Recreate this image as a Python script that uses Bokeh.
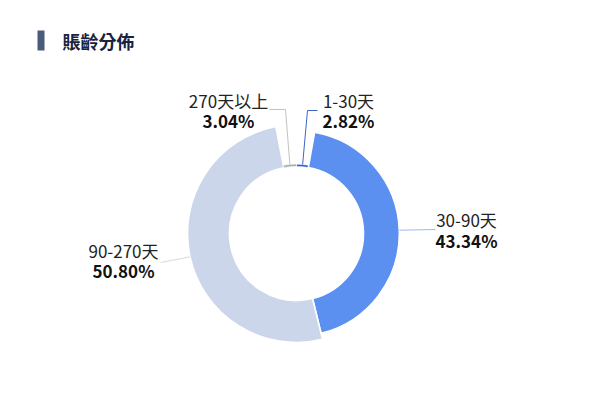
import math
from bokeh.plotting import figure
from bokeh.models import Range1d, ColumnDataSource
from bokeh.core.properties import value
from bokeh.embed import file_html
from bokeh.resources import INLINE

# ---- data ----
title = "賬齡分佈"
categories = ["1-30天", "30-90天", "90-270天", "270天以上"]
values = [2.82, 43.34, 50.80, 3.04]
pct_labels = ["2.82%", "43.34%", "50.80%", "3.04%"]
colors = ["#2F5FD0", "#5B8FF0", "#CCD6EA", "#A9AEB8"]
line_colors = ["#3A66C8", "#9DB9EE", "#D3D9E6", "#C2C2C2"]

# ---- layout ----
W, H = 584, 393
FONT = "Noto Sans CJK TC"


def P(px, py):
    """page pixel -> data coordinates"""
    return px, H - py


CXp, CYp = 296, 233
CX, CY = P(CXp, CYp)
R0, R1 = 67, 109

p = figure(width=W, height=H, x_range=Range1d(0, W), y_range=Range1d(0, H),
           output_backend="svg", toolbar_location=None, min_border=0,
           x_axis_location=None, y_axis_location=None)
p.grid.visible = False
p.outline_line_color = None
p.background_fill_color = "white"
p.border_fill_color = "white"

# title
bx0, by0 = P(37, 30)
bx1, by1 = P(44, 50)
p.quad(left=[bx0], right=[bx1], top=[by0], bottom=[by1], fill_color="#4B5C7B", line_color=None)
tx, ty = P(62, 40)
p.text(x=[tx], y=[ty], text=[title], text_font=value(FONT), text_font_size="18px",
       text_font_style="bold", text_color="#18233F", text_align="left", text_baseline="middle")

# donut (rose by radius)
total = sum(values)
vmax = max(values)
starts, ends, outers, mids = [], [], [], []
c = 0.0
for v in values:
    c0 = c
    c1 = c + v / total
    c = c1
    starts.append(math.pi / 2 - 2 * math.pi * c1)
    ends.append(math.pi / 2 - 2 * math.pi * c0)
    outers.append(R0 + (v / vmax) * (R1 - R0))
    mids.append(2 * math.pi * (c0 + c1) / 2)  # clockwise from top

src = ColumnDataSource(dict(x=[CX] * len(values), y=[CY] * len(values), start=starts, end=ends,
                            outer=outers, color=colors,
                            lw=[0.6 if v / total < 0.05 else 1.6 for v in values]))
p.annular_wedge(x="x", y="y", inner_radius=R0, outer_radius="outer", start_angle="start",
                end_angle="end", direction="anticlock", fill_color="color",
                line_color="white", line_width="lw", source=src)

# label lines and labels (positions in page px)
anchors = {
    "1-30天": [(307, 110), (317, 110)],
    "30-90天": [(435, 229)],
    "90-270天": [(160, 262)],
    "270天以上": [(285, 109), (269, 109)],
}
label_pos = {
    "1-30天": (348, 100, 120),
    "30-90天": (466, 219, 240),
    "90-270天": (123, 250, 270),
    "270天以上": (228, 100, 120),
}

for i, cat in enumerate(categories):
    th = mids[i]
    r = outers[i]
    sx = CXp + math.sin(th) * r
    sy = CYp - math.cos(th) * r
    pts = [(sx, sy)] + anchors[cat]
    xs = [P(a, b)[0] for a, b in pts]
    ys = [P(a, b)[1] for a, b in pts]
    p.line(xs, ys, line_color=line_colors[i], line_width=1)
    lx, l1, l2 = label_pos[cat]
    x1, y1 = P(lx, l1)
    x2, y2 = P(lx, l2)
    p.text(x=[x1], y=[y1], text=[cat], text_font=value(FONT), text_font_size="17px",
           text_color="#222222", text_align="center", text_baseline="middle")
    p.text(x=[x2], y=[y2], text=[pct_labels[i]], text_font=value(FONT), text_font_size="17px",
           text_font_style="bold", text_color="#111111", text_align="center", text_baseline="middle")

open("out.html", "w").write(file_html(p, INLINE))
